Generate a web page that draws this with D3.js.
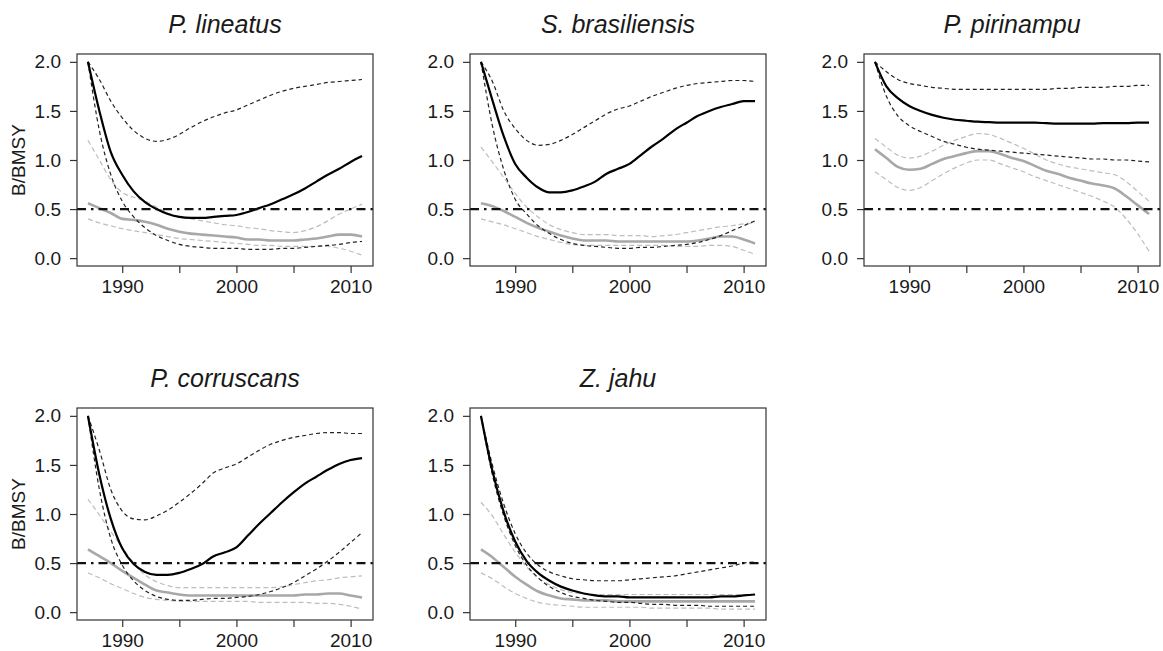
<!DOCTYPE html>
<html>
<head>
<meta charset="utf-8">
<script src="https://cdn.jsdelivr.net/npm/d3@7"></script>
<style>
  body { margin: 0; background: #fff; }
  svg { display: block; }
  text { font-family: "Liberation Sans", Arial, sans-serif; fill: #1a1a1a; }
</style>
</head>
<body>
<div id="chart"></div>
<script>
// years shared by every panel
const years = d3.range(1987, 2012);

const species = ["P. lineatus", "S. brasiliensis", "P. pirinampu", "P. corruscans", "Z. jahu"];

// black lines: median + dashed bounds
const blackMid = [
  [2.00,1.50,1.08,0.85,0.68,0.57,0.50,0.45,0.42,0.41,0.41,0.42,0.43,0.44,0.47,0.51,0.55,0.60,0.65,0.71,0.78,0.85,0.91,0.98,1.04],
  [2.00,1.61,1.24,0.96,0.82,0.72,0.67,0.67,0.69,0.73,0.78,0.86,0.91,0.96,1.05,1.14,1.22,1.31,1.38,1.45,1.50,1.54,1.57,1.60,1.60],
  [2.00,1.75,1.63,1.55,1.50,1.46,1.43,1.41,1.40,1.39,1.385,1.38,1.38,1.38,1.38,1.375,1.37,1.37,1.37,1.37,1.375,1.375,1.375,1.38,1.38],
  [2.00,1.40,0.95,0.65,0.49,0.41,0.38,0.38,0.40,0.44,0.49,0.57,0.61,0.66,0.78,0.90,1.01,1.12,1.22,1.31,1.38,1.45,1.51,1.55,1.57],
  [2.00,1.44,1.02,0.72,0.52,0.40,0.32,0.26,0.22,0.19,0.17,0.16,0.16,0.15,0.15,0.15,0.15,0.15,0.15,0.15,0.15,0.16,0.16,0.17,0.18]
];
const blackHi = [
  [2.00,1.82,1.60,1.43,1.30,1.22,1.19,1.21,1.26,1.33,1.39,1.44,1.48,1.51,1.56,1.61,1.66,1.70,1.73,1.75,1.77,1.79,1.80,1.81,1.82],
  [2.00,1.80,1.50,1.32,1.20,1.15,1.16,1.20,1.26,1.33,1.40,1.47,1.52,1.55,1.60,1.65,1.69,1.73,1.76,1.78,1.79,1.80,1.81,1.81,1.80],
  [2.00,1.90,1.82,1.78,1.76,1.74,1.73,1.72,1.72,1.72,1.72,1.72,1.72,1.72,1.72,1.72,1.73,1.73,1.74,1.74,1.74,1.75,1.75,1.76,1.76],
  [2.00,1.65,1.25,1.03,0.95,0.94,0.98,1.04,1.12,1.21,1.31,1.42,1.47,1.51,1.58,1.65,1.71,1.75,1.78,1.80,1.82,1.83,1.83,1.82,1.82],
  [2.00,1.50,1.10,0.80,0.60,0.48,0.41,0.37,0.34,0.33,0.32,0.32,0.32,0.33,0.34,0.35,0.36,0.37,0.39,0.41,0.43,0.45,0.47,0.50,0.51]
];
const blackLo = [
  [2.00,1.30,0.85,0.58,0.42,0.31,0.23,0.18,0.14,0.12,0.11,0.10,0.10,0.10,0.09,0.09,0.09,0.10,0.10,0.11,0.12,0.13,0.14,0.16,0.17],
  [2.00,1.35,0.90,0.60,0.45,0.33,0.25,0.19,0.15,0.13,0.12,0.11,0.10,0.10,0.11,0.11,0.12,0.13,0.14,0.16,0.19,0.23,0.28,0.33,0.38],
  [2.00,1.65,1.45,1.35,1.29,1.24,1.19,1.16,1.13,1.11,1.10,1.09,1.08,1.07,1.06,1.05,1.04,1.03,1.02,1.01,1.01,1.00,1.00,0.99,0.98],
  [2.00,1.25,0.75,0.48,0.32,0.22,0.16,0.13,0.12,0.12,0.13,0.14,0.14,0.15,0.16,0.18,0.21,0.25,0.30,0.37,0.44,0.52,0.61,0.71,0.81],
  [2.00,1.40,0.98,0.68,0.48,0.35,0.26,0.20,0.16,0.14,0.12,0.11,0.10,0.10,0.09,0.08,0.08,0.07,0.07,0.07,0.06,0.06,0.06,0.06,0.06]
];

// grey lines: median + dashed bounds
const greyMid = [
  [0.56,0.51,0.46,0.40,0.39,0.37,0.34,0.30,0.27,0.25,0.24,0.23,0.22,0.21,0.19,0.19,0.18,0.18,0.18,0.19,0.20,0.22,0.24,0.24,0.22],
  [0.56,0.53,0.48,0.42,0.36,0.31,0.27,0.23,0.20,0.18,0.18,0.18,0.17,0.17,0.17,0.17,0.17,0.17,0.17,0.18,0.20,0.22,0.22,0.19,0.15],
  [1.11,1.02,0.93,0.90,0.91,0.96,1.01,1.04,1.07,1.09,1.09,1.06,1.02,0.99,0.94,0.89,0.86,0.82,0.79,0.76,0.74,0.71,0.63,0.54,0.45],
  [0.64,0.57,0.50,0.42,0.35,0.28,0.22,0.20,0.18,0.17,0.17,0.17,0.17,0.17,0.17,0.17,0.17,0.17,0.17,0.18,0.18,0.19,0.19,0.17,0.15],
  [0.64,0.56,0.46,0.36,0.28,0.21,0.17,0.14,0.13,0.12,0.12,0.12,0.11,0.11,0.11,0.11,0.11,0.11,0.11,0.11,0.11,0.11,0.11,0.11,0.11]
];
const greyHi = [
  [1.20,1.00,0.80,0.67,0.62,0.58,0.52,0.46,0.42,0.40,0.38,0.36,0.34,0.33,0.31,0.30,0.28,0.27,0.26,0.28,0.32,0.38,0.45,0.50,0.55],
  [1.13,0.98,0.82,0.66,0.52,0.42,0.34,0.29,0.26,0.24,0.24,0.24,0.23,0.23,0.23,0.22,0.23,0.24,0.26,0.28,0.30,0.32,0.33,0.35,0.36],
  [1.22,1.13,1.05,1.02,1.04,1.09,1.15,1.20,1.24,1.27,1.26,1.22,1.17,1.12,1.06,1.00,0.96,0.93,0.91,0.89,0.87,0.85,0.78,0.68,0.58],
  [1.15,0.99,0.82,0.66,0.50,0.38,0.31,0.27,0.25,0.25,0.25,0.25,0.25,0.25,0.25,0.25,0.25,0.26,0.28,0.30,0.32,0.33,0.35,0.36,0.37],
  [1.12,0.98,0.79,0.61,0.46,0.35,0.28,0.23,0.20,0.19,0.18,0.18,0.18,0.18,0.18,0.18,0.18,0.18,0.18,0.18,0.18,0.18,0.18,0.18,0.18]
];
const greyLo = [
  [0.40,0.36,0.33,0.30,0.28,0.26,0.24,0.22,0.20,0.19,0.18,0.17,0.16,0.15,0.14,0.13,0.13,0.12,0.12,0.12,0.12,0.12,0.10,0.07,0.03],
  [0.40,0.37,0.34,0.30,0.26,0.22,0.19,0.16,0.14,0.13,0.13,0.13,0.13,0.13,0.13,0.13,0.13,0.12,0.12,0.12,0.13,0.13,0.12,0.08,0.04],
  [0.88,0.80,0.72,0.69,0.72,0.79,0.86,0.92,0.97,1.00,1.00,0.96,0.92,0.88,0.83,0.79,0.75,0.71,0.67,0.63,0.58,0.52,0.40,0.25,0.07],
  [0.40,0.35,0.29,0.24,0.19,0.15,0.13,0.12,0.11,0.11,0.11,0.11,0.11,0.11,0.11,0.10,0.10,0.10,0.10,0.10,0.09,0.09,0.08,0.06,0.03],
  [0.40,0.34,0.26,0.19,0.14,0.10,0.08,0.07,0.06,0.05,0.05,0.05,0.05,0.05,0.05,0.04,0.04,0.04,0.04,0.04,0.04,0.03,0.03,0.03,0.03]
];

const refLevel = 0.5;
const yTicks = [0, 0.5, 1, 1.5, 2];
const xTicks = [1990, 1995, 2000, 2005, 2010];
const xLabels = [1990, 2000, 2010];

const W = 1163, H = 651;
const svg = d3.select('#chart').append('svg')
    .attr('width', W)
    .attr('height', H);

// panel boxes (left, top), all the same size
const pw = 296, ph = 212;
const cols = [77, 470, 864];
const rows = [54, 408];

const x = d3.scaleLinear().domain([1986.04, 2011.96]).range([0, pw]);
const y = d3.scaleLinear().domain([-0.08, 2.08]).range([ph, 0]);

const line = d3.line()
    .x((d, i) => x(years[i]))
    .y(d => y(d))
    .curve(d3.curveMonotoneX);

species.forEach((name, k) => {
    const col = k % 3, row = Math.floor(k / 3);
    const g = svg.append('g').attr('transform', `translate(${cols[col]},${rows[row]})`);

    // lines
    g.append('path').attr('d', line(greyLo[k]))
        .attr('fill', 'none').attr('stroke', '#bdbdbd').attr('stroke-width', 1.2).attr('stroke-dasharray', '5,3');
    g.append('path').attr('d', line(greyHi[k]))
        .attr('fill', 'none').attr('stroke', '#bdbdbd').attr('stroke-width', 1.2).attr('stroke-dasharray', '5,3');
    g.append('path').attr('d', line(greyMid[k]))
        .attr('fill', 'none').attr('stroke', '#a8a8a8').attr('stroke-width', 2.6);
    g.append('path').attr('d', line(blackLo[k]))
        .attr('fill', 'none').attr('stroke', '#222').attr('stroke-width', 1.2).attr('stroke-dasharray', '4,3');
    g.append('path').attr('d', line(blackHi[k]))
        .attr('fill', 'none').attr('stroke', '#222').attr('stroke-width', 1.2).attr('stroke-dasharray', '4,3');
    g.append('path').attr('d', line(blackMid[k]))
        .attr('fill', 'none').attr('stroke', '#000').attr('stroke-width', 2.2);

    // reference level
    g.append('line')
        .attr('x1', 0).attr('x2', pw)
        .attr('y1', y(refLevel)).attr('y2', y(refLevel))
        .attr('stroke', '#111').attr('stroke-width', 2.2)
        .attr('stroke-dasharray', '9,5,2.5,5');

    // frame
    g.append('rect').attr('width', pw).attr('height', ph)
        .attr('fill', 'none').attr('stroke', '#333').attr('stroke-width', 1.2);

    // axes
    const yAxis = g.append('g')
        .call(d3.axisLeft(y).tickValues(yTicks).tickSize(7).tickPadding(9).tickFormat(d3.format('.1f')));
    const xAxis = g.append('g').attr('transform', `translate(0,${ph})`)
        .call(d3.axisBottom(x).tickValues(xTicks).tickSize(7).tickPadding(7)
            .tickFormat(d => xLabels.includes(d) ? d : ''));
    [yAxis, xAxis].forEach(a => {
        a.select('.domain').remove();
        a.selectAll('line').attr('stroke', '#333').attr('stroke-width', 1.2);
        a.selectAll('text').style('font-size', '19px').attr('fill', '#1a1a1a');
    });

    // title
    g.append('text')
        .attr('x', pw / 2).attr('y', -21)
        .attr('text-anchor', 'middle')
        .style('font-size', '25px').style('font-style', 'italic')
        .text(name);

    if (col === 0) {
        g.append('text')
            .attr('transform', `translate(-52,${ph / 2}) rotate(-90)`)
            .attr('text-anchor', 'middle')
            .style('font-size', '19px')
            .text('B/BMSY');
    }
});
</script>
</body>
</html>
